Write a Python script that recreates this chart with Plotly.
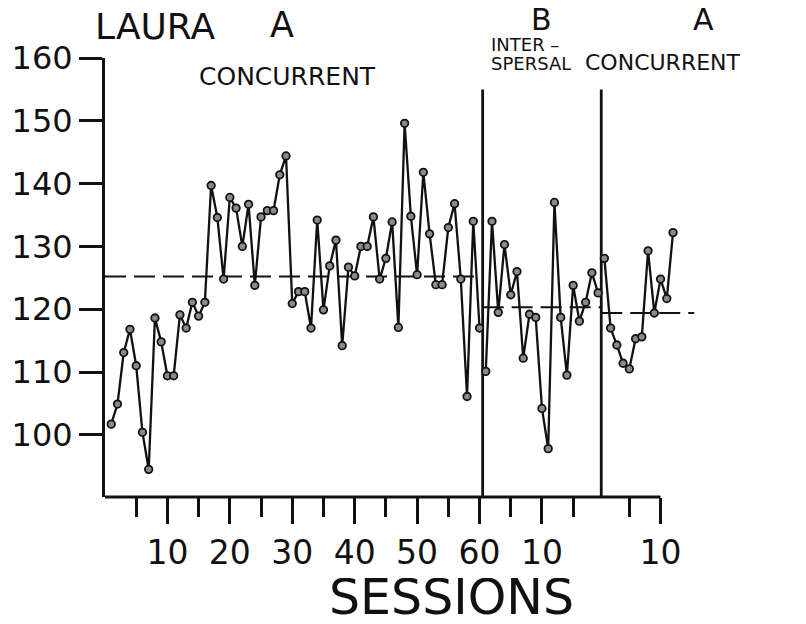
import plotly.graph_objects as go

# Session values per phase (A = concurrent, B = interspersal, A = concurrent)
a1_values = [101.7, 104.9, 113.1, 116.8, 111.0, 100.4, 94.5, 118.6, 114.8, 109.4,
             109.4, 119.1, 117.0, 121.1, 118.9, 121.1, 139.7, 134.6, 124.8, 137.8,
             136.1, 130.0, 136.7, 123.8, 134.7, 135.7, 135.7, 141.4, 144.4, 120.9,
             122.8, 122.8, 117.0, 134.2, 119.9, 126.9, 131.0, 114.2, 126.7, 125.3,
             130.0, 130.0, 134.7, 124.8, 128.1, 133.9, 117.1, 149.6, 134.8, 125.5,
             141.8, 132.0, 123.9, 123.9, 133.0, 136.8, 124.8, 106.1, 134.0, 117.0]
b_values = [110.1, 134.0, 119.5, 130.3, 122.3, 126.0, 112.2, 119.2, 118.7, 104.2,
            97.8, 137.0, 118.7, 109.5, 123.8, 118.1, 121.1, 125.8, 122.6]
a2_values = [128.1, 117.0, 114.3, 111.4, 110.5, 115.3, 115.6, 129.3, 119.4, 124.8,
             121.7, 132.2]

# Phase mean levels (dashed lines)
phase_means = [125.2, 120.3, 119.4]

# Axis ticks (session numbers within each phase)
a1_major = [10, 20, 30, 40, 50, 60]
a1_minor = [5, 15, 25, 35, 45, 55]
b_major = [10]
b_minor = [5, 15]
a2_major = [10]
a2_minor = [5]
y_ticks = [100, 110, 120, 130, 140, 150, 160]

phases = [a1_values, b_values, a2_values]
offsets = [0]
for vals in phases[:-1]:
    offsets.append(offsets[-1] + len(vals))
boundaries = [offsets[1] + 0.5, offsets[2] + 0.5]

Y_MIN, Y_MAX = 90.1, 160
X_MIN, X_MAX = 0, 95
W, H = 806, 624
ML, MR, MT, MB = 99, 108, 58, 127

INK = "#111111"
FONT = "DejaVu Sans"

fig = go.Figure()

# Phase mean dashed lines
mean_spans = [(X_MIN, boundaries[0]), (boundaries[0], boundaries[1]),
              (boundaries[1], offsets[2] + len(a2_values) + 3.4)]
for (x0, x1), m in zip(mean_spans, phase_means):
    fig.add_trace(go.Scatter(x=[x0, x1], y=[m, m], mode="lines",
                             line=dict(color=INK, width=2, dash="21px,8px"),
                             hoverinfo="skip", showlegend=False))

# Phase change lines
for bx in boundaries:
    fig.add_trace(go.Scatter(x=[bx, bx], y=[Y_MIN, 155], mode="lines",
                             line=dict(color=INK, width=2.8),
                             hoverinfo="skip", showlegend=False))

# Session data, one unconnected series per phase
for vals, off in zip(phases, offsets):
    xs = [off + i + 1 for i in range(len(vals))]
    fig.add_trace(go.Scatter(x=xs, y=vals, mode="lines+markers",
                             line=dict(color=INK, width=2.3),
                             marker=dict(size=7.5, color="#8a8a8a",
                                         line=dict(color=INK, width=1.8)),
                             showlegend=False))

major_vals = ([offsets[0] + v for v in a1_major] + [offsets[1] + v for v in b_major]
              + [offsets[2] + v for v in a2_major])
major_text = [str(v) for v in a1_major + b_major + a2_major]
minor_vals = ([offsets[0] + v for v in a1_minor] + [offsets[1] + v for v in b_minor]
              + [offsets[2] + v for v in a2_minor])

# x axis baseline, running to the last labelled tick
fig.add_shape(type="line", xref="x", yref="paper", x0=X_MIN, x1=max(major_vals),
              y0=0, y1=0, line=dict(color=INK, width=2.8))


def px(xp, yp):
    return (xp - ML) / (W - ML - MR), (H - MB - yp) / (H - MT - MB)


def label(text, xp, yp, size, anchor="center", box=None):
    x, y = px(xp, yp)
    fig.add_annotation(text=text, x=x, y=y, xref="paper", yref="paper",
                       showarrow=False, xanchor=anchor, yanchor="middle",
                       height=box, valign="middle",
                       font=dict(family=FONT, size=size, color=INK))


label("LAURA", 150, 26, 36)
label("A", 278, 25, 35)
label("CONCURRENT", 283, 77, 25)
label("B", 540, 19, 30, box=28)
label("A", 704, 19, 30, box=28)
label("INTER –", 487, 44, 18, "left", box=16)
label("SPERSAL", 487, 63, 18, "left", box=16)
label("CONCURRENT", 582, 63, 22, "left", box=19)
label("SESSIONS", 449, 597, 49, box=38)

fig.update_layout(
    width=W, height=H, autosize=False,
    margin=dict(l=ML, r=MR, t=MT, b=MB, pad=0),
    paper_bgcolor="white", plot_bgcolor="white",
    font=dict(family=FONT, color=INK),
    xaxis=dict(range=[X_MIN, X_MAX], showgrid=False, zeroline=False, showline=False,
               tickmode="array", tickvals=major_vals, ticktext=major_text,
               ticks="outside", ticklen=26, tickwidth=2.8, tickcolor=INK,
               tickfont=dict(family=FONT, size=33, color=INK),
               minor=dict(tickmode="array", tickvals=minor_vals, ticks="outside",
                          ticklen=19, tickwidth=2.8, tickcolor=INK, showgrid=False)),
    yaxis=dict(range=[Y_MIN, Y_MAX], showgrid=False, zeroline=False,
               showline=True, linewidth=2.8, linecolor=INK,
               tickmode="array", tickvals=y_ticks,
               ticks="outside", ticklen=23, tickwidth=2.8, tickcolor=INK,
               tickfont=dict(family=FONT, size=32, color=INK)),
)

fig.write_html("out.html")
